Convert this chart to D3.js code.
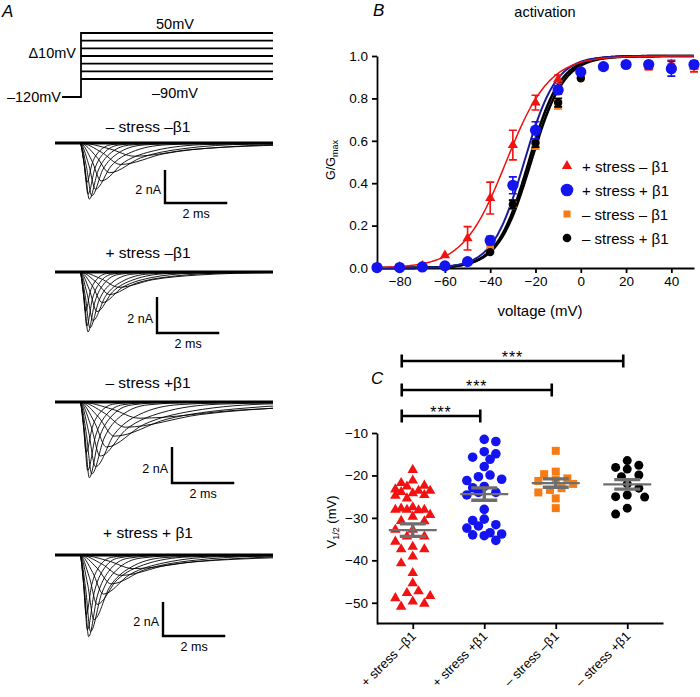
<!DOCTYPE html>
<html><head><meta charset="utf-8">
<script src="https://cdn.jsdelivr.net/npm/d3@7"></script>
<style>
body{margin:0;background:#fff}
svg{display:block}
text{font-family:"Liberation Sans",Arial,Helvetica,sans-serif;fill:#000}
</style>
</head><body>
<svg id="c" width="700" height="697"></svg>
<script>
// ================= DATA =================
// Panel B: activation (G/Gmax) vs voltage
const voltages = [-90,-80,-70,-60,-50,-40,-30,-20,-10,0,10,20,30,40,50];
const groupLabelsB = ["+ stress \u2013 \u03b21","+ stress + \u03b21","\u2013 stress \u2013 \u03b21","\u2013 stress + \u03b21"];
const actRedMean    = [0.005,0.005,0.01,0.06,0.14,0.33,0.58,0.78,0.89,0.93,0.95,0.96,0.95,0.96,0.95];
const actRedSem     = [0.005,0.005,0.005,0.01,0.055,0.075,0.07,0.035,0.02,0.01,0.01,0.01,0.015,0.02,0.025];
const actBlueMean   = [0.002,0.002,0.005,0.01,0.03,0.13,0.39,0.65,0.84,0.925,0.95,0.96,0.96,0.94,0.96];
const actBlueSem    = [0,0,0,0.005,0.01,0.02,0.04,0.04,0.02,0.01,0.01,0.01,0.01,0.035,0.015];
const actOrangeMean = [0.005,0.005,0.005,0.01,0.03,0.09,0.30,0.58,0.77,0.90,0.95,0.96,0.95,0.95,0.95];
const actOrangeSem  = [0.01,0.01,0.01,0.01,0.01,0.01,0.02,0.02,0.02,0.01,0.01,0.01,0.01,0.01,0.01];
const actBlackMean  = [0.002,0.002,0.005,0.01,0.03,0.075,0.30,0.59,0.78,0.895,0.95,0.96,0.96,0.95,0.96];
const actBlackSem   = [0.005,0.005,0.005,0.005,0.01,0.01,0.02,0.02,0.02,0.01,0.01,0.01,0.01,0.01,0.01];
// Boltzmann fits (V1/2, slope k) per group
const fitV50   = [-33,-25,-23,-22];
const fitSlope = [9.5,7,7,7.2];

// Panel C: V1/2 per cell
const categoriesC = ["+ stress \u2013\u03b21","+ stress +\u03b21","\u2013 stress \u2013\u03b21","\u2013 stress +\u03b21"];
const v50Red = [-18.7,-21.8,-21.2,-22.6,-22.4,-23.6,-23.6,-23.3,-24.8,-24.2,-23.9,-24.6,-25.4,-28.1,-28.2,-28.1,-27.5,-27.8,-29.3,-28.1,-29.7,-30.7,-30.8,-32.8,-34.4,-32.8,-34.4,-35.6,-36.8,-37.4,-37.4,-39.1,-40.7,-43.0,-45.4,-47.3,-48.4,-47.7,-48.9,-49.7,-50.2,-50.9];
const v50Blue = [-11.5,-12.0,-14.4,-14.9,-16.2,-15.7,-17.9,-20.3,-19.9,-20.9,-21.2,-22.9,-22.6,-24.0,-24.0,-24.6,-28.0,-30.6,-30.3,-31.9,-31.6,-32.4,-34.0,-33.5,-33.8,-34.2,-35.3];
const v50Orange = [-14.2,-19.1,-19.7,-21.3,-20.7,-21.1,-23.4,-23.0,-24.0,-25.4,-27.7,-22.0];
const v50Black = [-16.5,-18.1,-18.5,-17.6,-19.9,-20.3,-22.0,-25.0,-25.1,-24.6,-27.7,-29.1,-23.0];
const yTicksC = [-10,-20,-30,-40,-50];
const sigPairs = [[0,3],[0,2],[0,1]];
const sigLabels = ["***","***","***"];

// Panel A: current traces (peak time after step, ms; peak amplitude, nA; half-decay time, ms)
const traceTitles = ["\u2013 stress \u2013\u03b21","+ stress \u2013\u03b21","\u2013 stress +\u03b21","+ stress + \u03b21"];
const tracePeakT = [
  [0.22,0.26,0.30,0.38,0.50,0.68,0.95,1.30,1.75],
  [0.18,0.22,0.26,0.32,0.42,0.55,0.72,0.95,1.25],
  [0.20,0.25,0.30,0.38,0.50,0.65,0.85,1.10,1.45,1.90],
  [0.20,0.24,0.28,0.34,0.45,0.55,0.75,1.00,1.30,1.70]
];
const tracePeakA = [
  [2.4,3.1,3.4,3.2,2.8,2.3,1.8,1.3,0.8],
  [2.2,3.0,3.33,3.1,2.7,2.2,1.7,1.25,0.85],
  [2.8,3.8,4.2,4.0,3.6,3.0,2.5,1.9,1.4,0.9],
  [3.5,4.4,4.8,4.5,3.8,2.9,2.3,1.7,1.2,0.8]
];
const traceHalfT = [
  [0.18,0.22,0.28,0.36,0.50,0.75,1.00,1.40,1.80],
  [0.15,0.18,0.22,0.30,0.40,0.50,0.65,0.85,1.10],
  [0.20,0.25,0.30,0.40,0.60,0.85,1.20,1.70,2.40,3.20],
  [0.18,0.22,0.28,0.36,0.50,0.65,0.85,1.10,1.50,2.00]
];
const scaleBarNA = 2, scaleBarMS = 2;
const protocolSteps = [0,1,2,3,4,5,6];

// ================= DRAW =================
const svg = d3.select("#c");

// ---------- Panel A: protocol ----------
const gA = svg.append("g");
gA.append("text").attr("x",2).attr("y",17).attr("font-size",17).attr("font-style","italic").text("A");
const yProto = d3.scaleLinear([0,6],[33,79]);
gA.selectAll("line.step").data(protocolSteps).join("line")
  .attr("x1",81).attr("x2",273).attr("y1",d=>yProto(d)).attr("y2",d=>yProto(d))
  .attr("stroke","#000").attr("stroke-width",1.8);
gA.append("path").attr("d",`M62,97H81V${yProto(0)-0.9}`).attr("fill","none").attr("stroke","#000").attr("stroke-width",1.8);
gA.append("text").attr("x",175).attr("y",29).attr("text-anchor","middle").attr("font-size",14.5).text("50mV");
gA.append("text").attr("x",76).attr("y",58).attr("text-anchor","end").attr("font-size",14.5).text("\u039410mV");
gA.append("text").attr("x",61).attr("y",102).attr("text-anchor","end").attr("font-size",14.5).text("\u2013120mV");
gA.append("text").attr("x",175).attr("y",98).attr("text-anchor","middle").attr("font-size",14.5).text("\u201390mV");

// ---------- Panel A: traces ----------
const tStep = 0.8, tEnd = 7;
const xT = d3.scaleLinear([0,tEnd],[55,273]);
const panelsA = [
  {base:143, title:127, pxNA:16.5, barX:165, barY:203},
  {base:272, title:253, pxNA:18,   barX:157, barY:333},
  {base:402, title:383, pxNA:18,   barX:172, barY:483},
  {base:555, title:533, pxNA:17,   barX:163, barY:636}
];
const defs = svg.append("defs");
defs.append("clipPath").attr("id","clipT").append("rect").attr("x",xT(0)).attr("y",0).attr("width",xT(tEnd)-xT(0)).attr("height",697);

panelsA.forEach((p,pi)=>{
  const g = svg.append("g");
  const yT = d3.scaleLinear([0,-1],[p.base,p.base+p.pxNA]);
  g.append("text").attr("x",148).attr("y",p.title+5).attr("text-anchor","middle").attr("font-size",15.5).text(traceTitles[pi]);
  const line = d3.line().x(d=>xT(d[0])).y(d=>yT(d[1])).curve(d3.curveMonotoneX);
  const gg = g.append("g").attr("clip-path","url(#clipT)");
  tracePeakT[pi].forEach((tp,i)=>{
    const A = tracePeakA[pi][i], th = traceHalfT[pi][i];
    const t0 = tStep + tp;
    const keys = [[0,0],[tStep,0],[tStep+tp*0.55,-A*0.45],[t0,-A],[t0+th,-A/2],[t0+2.3*th,-A/5],[t0+4.5*th,-A/25],[t0+9*th,0]];
    gg.append("path").attr("d",line(keys)).attr("fill","none").attr("stroke","#000").attr("stroke-width",0.9);
  });
  // noisy baseline band
  gg.append("path").attr("d",line([[0,0],[tEnd,0]])).attr("fill","none").attr("stroke","#000").attr("stroke-width",3.2);
  // scale bars
  const barH = scaleBarNA*p.pxNA, barW = xT(scaleBarMS)-xT(0);
  g.append("path").attr("d",`M${p.barX},${p.barY-barH}V${p.barY}H${p.barX+barW}`).attr("fill","none").attr("stroke","#000").attr("stroke-width",2.4);
  g.append("text").attr("x",p.barX-4).attr("y",p.barY-barH*0.4+4).attr("text-anchor","end").attr("font-size",12.5).text(scaleBarNA+" nA");
  g.append("text").attr("x",p.barX+barW/2).attr("y",p.barY+15).attr("text-anchor","middle").attr("font-size",12.5).text(scaleBarMS+" ms");
});

// ---------- Panel B ----------
const xB = d3.scaleLinear([-90,50],[377,694]);
const yB = d3.scaleLinear([0,1],[268,56]);
const gB = svg.append("g");
gB.append("text").attr("x",373).attr("y",16).attr("font-size",17).attr("font-style","italic").text("B");
gB.append("text").attr("x",545).attr("y",17).attr("text-anchor","middle").attr("font-size",14.5).text("activation");

const axBx = gB.append("g").attr("transform","translate(0,268)")
  .call(d3.axisBottom(xB).tickValues([-80,-60,-40,-20,0,20,40]).tickSize(5).tickPadding(3).tickSizeOuter(0));
const axBy = gB.append("g").attr("transform","translate(377,0)")
  .call(d3.axisLeft(yB).tickValues([0,0.2,0.4,0.6,0.8,1.0]).tickFormat(d3.format(".1f")).tickSize(5).tickPadding(4).tickSizeOuter(0));
[axBx,axBy].forEach(a=>{
  a.selectAll("path,line").attr("stroke","#000").attr("stroke-width",1.8);
  a.selectAll("text").attr("font-size",13.5).attr("font-family",'"Liberation Sans",Arial,sans-serif');
});
gB.append("text").attr("x",540).attr("y",316).attr("text-anchor","middle").attr("font-size",15).text("voltage (mV)");
const yl = gB.append("text").attr("transform","translate(335,160) rotate(-90)").attr("text-anchor","middle").attr("font-size",12.5);
yl.append("tspan").text("G/G");
yl.append("tspan").attr("font-size",9).attr("dy",3).text("max");

// fits
const fitColors = ["#ee1111","#1a1a9a","#000","#000"];
const fitWidths = [1.5,2,2.6,2.6];
const vFine = d3.range(-90,50.01,0.5);
const fitLine = d3.line().x(d=>xB(d[0])).y(d=>yB(d[1]));
[2,3,1,0].forEach(gi=>{
  const pts = vFine.map(v=>[v,1/(1+Math.exp((fitV50[gi]-v)/fitSlope[gi]))]);
  gB.append("path").attr("d",fitLine(pts)).attr("fill","none").attr("stroke",fitColors[gi]).attr("stroke-width",fitWidths[gi]);
});

const groupsB = [
  {mean:actRedMean, sem:actRedSem, color:"#f21212", shape:"tri", size:45},
  {mean:actBlueMean, sem:actBlueSem, color:"#1414f0", shape:"circ", size:5.6},
  {mean:actOrangeMean, sem:actOrangeSem, color:"#f77b12", shape:"sq", size:7.5},
  {mean:actBlackMean, sem:actBlackSem, color:"#000", shape:"circ", size:4.2}
];
function drawMarker(g, shape, color, size, x, y){
  if(shape==="tri"){
    g.append("path").attr("d",d3.symbol(d3.symbolTriangle,size)()).attr("transform",`translate(${x},${y})`).attr("fill",color);
  } else if(shape==="circ"){
    g.append("circle").attr("cx",x).attr("cy",y).attr("r",size).attr("fill",color);
  } else {
    g.append("rect").attr("x",x-size/2).attr("y",y-size/2).attr("width",size).attr("height",size).attr("fill",color);
  }
}
[2,3,0,1].forEach(gi=>{
  const G = groupsB[gi];
  const g = gB.append("g");
  voltages.forEach((v,i)=>{
    const m = G.mean[i], s = G.sem[i];
    if(s>0.012){
      const x = xB(v);
      g.append("path").attr("d",`M${x},${yB(m-s)}V${yB(m+s)}M${x-4},${yB(m-s)}H${x+4}M${x-4},${yB(m+s)}H${x+4}`)
        .attr("stroke",G.color).attr("stroke-width",1.6).attr("fill","none");
    }
  });
  voltages.forEach((v,i)=>drawMarker(g,G.shape,G.color,G.size,xB(v),yB(G.mean[i])));
});
// legend
const legY = [166,190,214,238];
const legMarkers = [
  {shape:"tri",color:"#f21212",size:45},
  {shape:"circ",color:"#1414f0",size:6.3},
  {shape:"sq",color:"#f77b12",size:7},
  {shape:"circ",color:"#000",size:4.3}
];
groupLabelsB.forEach((lab,i)=>{
  const m = legMarkers[i];
  drawMarker(gB,m.shape,m.color,m.size,567,legY[i]);
  gB.append("text").attr("x",582).attr("y",legY[i]+5.5).attr("font-size",15).text(lab);
});

// ---------- Panel C ----------
const xC = d3.scalePoint(categoriesC,[377,663]).padding(0.5);
const yC = d3.scaleLinear([-55,-10],[624,433]);
const gC = svg.append("g");
gC.append("text").attr("x",371).attr("y",384).attr("font-size",17).attr("font-style","italic").text("C");
const axCx = gC.append("g").attr("transform","translate(0,623)")
  .call(d3.axisBottom(xC).tickSize(6).tickSizeOuter(0).tickFormat(""));
const axCy = gC.append("g").attr("transform","translate(377,0)")
  .call(d3.axisLeft(yC).tickValues(yTicksC).tickSize(5).tickPadding(4).tickSizeOuter(0));
[axCx,axCy].forEach(a=>{
  a.selectAll("path,line").attr("stroke","#000").attr("stroke-width",1.8);
  a.selectAll("text").attr("font-size",13.5).attr("font-family",'"Liberation Sans",Arial,sans-serif');
});
categoriesC.forEach(c=>{
  gC.append("text").attr("transform",`translate(${xC(c)+4},637) rotate(-45)`).attr("text-anchor","end").attr("font-size",13).text(c);
});
const ylc = gC.append("text").attr("transform","translate(336,522) rotate(-90)").attr("text-anchor","middle").attr("font-size",13);
ylc.append("tspan").text("V");
ylc.append("tspan").attr("font-size",9).attr("dy",3).text("1/2");
ylc.append("tspan").attr("dy",-3).text(" (mV)");

function swarm(vals, minDist, step, maxK){
  const order = vals.map((v,i)=>i).sort((a,b)=>vals[b]-vals[a]);
  const placed = [], off = new Array(vals.length).fill(0);
  order.forEach((i,n)=>{
    const y = yC(vals[i]);
    const cands = [0];
    for(let k=1;k<=maxK;k++){ if(n%2) cands.push(k*step,-k*step); else cands.push(-k*step,k*step); }
    const nearest = c=>placed.length? d3.min(placed,p=>Math.hypot(p.x-c,p.y-y)) : Infinity;
    let best = cands.find(c=>nearest(c)>=minDist);
    if(best===undefined) best = d3.greatest(cands,c=>nearest(c));
    off[i]=best; placed.push({x:best,y});
  });
  return off;
}
const groupsC = [
  {vals:v50Red, color:"#f21212", shape:"tri", size:48},
  {vals:v50Blue, color:"#1414f0", shape:"circ", size:4.8},
  {vals:v50Orange, color:"#f77b12", shape:"sq", size:8},
  {vals:v50Black, color:"#000", shape:"circ", size:4.5}
];
groupsC.forEach((G,gi)=>{
  const cx = xC(categoriesC[gi]);
  const off = swarm(G.vals, 9, 5.8, 3);
  const g = gC.append("g");
  G.vals.forEach((v,i)=>drawMarker(g,G.shape,G.color,G.size,cx+off[i],yC(v)));
  const m = d3.mean(G.vals), s = d3.deviation(G.vals)/Math.sqrt(G.vals.length);
  g.append("line").attr("x1",cx-24).attr("x2",cx+24).attr("y1",yC(m)).attr("y2",yC(m)).attr("stroke","#6e6e6e").attr("stroke-width",2.4);
  g.append("path").attr("d",`M${cx},${yC(m-s)}V${yC(m+s)}M${cx-13},${yC(m-s)}H${cx+13}M${cx-13},${yC(m+s)}H${cx+13}`)
    .attr("stroke","#6e6e6e").attr("stroke-width",3.4).attr("fill","none");
});
// significance bars
const sigY = [361,390,416];
sigPairs.forEach((pr,i)=>{
  const x1 = xC(categoriesC[pr[0]])-11, x2 = xC(categoriesC[pr[1]])-4;
  const y = sigY[i];
  gC.append("path").attr("d",`M${x1},${y-6.5}V${y+6.5}M${x1},${y}H${x2}M${x2},${y-6.5}V${y+6.5}`)
    .attr("stroke","#000").attr("stroke-width",2.6).attr("fill","none");
  gC.append("text").attr("x",(x1+x2)/2).attr("y",y+2).attr("text-anchor","middle").attr("font-size",16).attr("letter-spacing",1).text(sigLabels[i]);
});
</script>
</body></html>
